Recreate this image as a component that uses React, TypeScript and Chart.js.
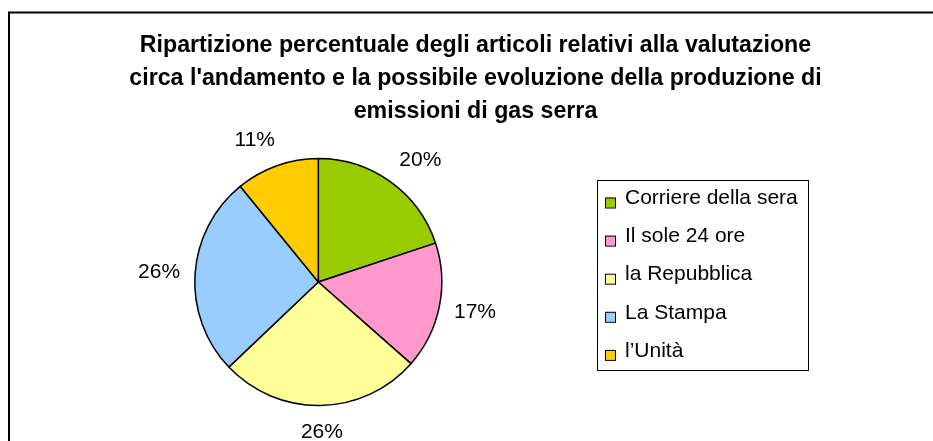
import React, { useEffect, useRef } from 'react';
import { Chart, registerables } from 'chart.js';

Chart.register(...registerables);

const TITLE_LINES = [
  'Ripartizione percentuale degli articoli relativi alla valutazione',
  "circa l'andamento e la possibile evoluzione della produzione di",
  'emissioni di gas serra',
];
const CATEGORIES = ['Corriere della sera', 'Il sole 24 ore', 'la Repubblica', 'La Stampa', 'l\u2019Unit\u00e0'];
const SHARES = [19.9, 16.6, 26.4, 26.2, 10.9];
const COLORS = ['#99CC00', '#FF99CC', '#FFFF99', '#99CCFF', '#FFCC00'];

const FONT = '"Liberation Sans", Arial, sans-serif';

const decorPlugin = {
  id: 'decor',
  beforeDraw(chart: any) {
    const ctx = chart.ctx;
    ctx.save();
    ctx.fillStyle = '#ffffff';
    ctx.fillRect(0, 0, chart.width, chart.height);
    ctx.restore();
  },
  afterDraw(chart: any) {
    const ctx = chart.ctx;
    ctx.save();
    // outer frame
    ctx.strokeStyle = '#000';
    ctx.lineWidth = 2;
    ctx.strokeRect(9, 12.5, 1200, 1200);

    // title
    ctx.fillStyle = '#000';
    ctx.font = `bold 23.2px ${FONT}`;
    ctx.textAlign = 'center';
    ctx.textBaseline = 'alphabetic';
    TITLE_LINES.forEach((line, i) => ctx.fillText(line, 475.5, 52 + i * 33));

    // percentage labels
    const meta = chart.getDatasetMeta(0);
    const total = SHARES.reduce((a, b) => a + b, 0);
    ctx.font = `21px ${FONT}`;
    ctx.textBaseline = 'middle';
    meta.data.forEach((arc: any, i: number) => {
      const p = arc.getProps(['x', 'y', 'startAngle', 'endAngle', 'outerRadius'], true);
      const mid = (p.startAngle + p.endAngle) / 2;
      const ux = Math.cos(mid);
      const uy = Math.sin(mid);
      const text = Math.round((SHARES[i] / total) * 100) + '%';
      const w = ctx.measureText(text).width;
      const h = 24;
      const g = 15;
      const cx = p.x + ux * (p.outerRadius + g) + Math.sign(ux) * (w / 2) * Math.min(1, Math.abs(ux) * 2.5);
      const cy = p.y + uy * (p.outerRadius + g) + (uy * h) / 2;
      ctx.fillText(text, cx, cy);
    });

    // legend
    ctx.lineWidth = 1;
    ctx.strokeStyle = '#000';
    ctx.strokeRect(597.5, 180.5, 211, 190);
    ctx.textAlign = 'left';
    CATEGORIES.forEach((label, i) => {
      const y = 198.5 + i * 38.1;
      ctx.fillStyle = COLORS[i];
      ctx.fillRect(605, y - 1, 10, 10);
      ctx.strokeRect(605.5, y - 0.5, 10, 10);
      ctx.fillStyle = '#000';
      ctx.fillText(label, 625, y);
    });
    ctx.restore();
  },
};

export default function App() {
  const ref = useRef<HTMLCanvasElement | null>(null);
  useEffect(() => {
    if (!ref.current) return;
    const chart = new Chart(ref.current, {
      type: 'pie',
      data: {
        labels: CATEGORIES,
        datasets: [
          {
            data: SHARES,
            backgroundColor: COLORS,
            borderColor: '#000',
            borderWidth: 1.5,
            radius: 123.5,
          } as any,
        ],
      },
      options: {
        responsive: false,
        animation: false,
        layout: { padding: { left: 190, right: 486.4, top: 155, bottom: 32 } },
        plugins: {
          legend: { display: false },
          title: { display: false },
          tooltip: { enabled: false },
        },
      },
      plugins: [decorPlugin],
    });
    return () => chart.destroy();
  }, []);
  return (
    <div style={{ position: 'absolute', left: 0, top: 0, width: 933, height: 441 }}>
      <canvas ref={ref} width={933} height={441} style={{ width: 933, height: 441 }} />
    </div>
  );
}
